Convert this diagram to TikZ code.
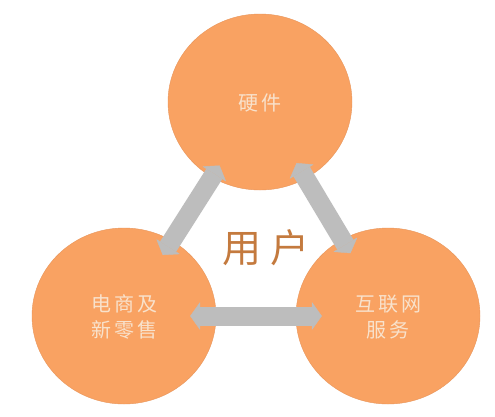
\documentclass[tikz,border=0pt]{standalone}
\usepackage{fontspec}
\newfontfamily\cjkorb[LetterSpace=15]{Noto Sans CJK SC}
\newfontfamily\cjkuser[LetterSpace=25]{Noto Sans CJK SC}
\usetikzlibrary{shapes.geometric,arrows.meta}
\definecolor{orb}{HTML}{F9A262}
\definecolor{orbedge}{HTML}{E8955A}
\definecolor{orbtext}{HTML}{F8E2CC}
\definecolor{usertext}{HTML}{C47A3E}
\definecolor{arrowgray}{HTML}{BDBDBD}
\newcommand\orbtxt[1]{\raisebox{-3.5pt}[\height][\depth]{\begin{tabular}{@{}c@{}}#1\end{tabular}}}
\begin{document}
\begin{tikzpicture}[x=1pt,y=-1pt,
  orbnode/.style={ellipse, fill=orb, draw=orbedge, line width=0.4pt,
    minimum width=184pt, minimum height=176pt, inner sep=0pt,
    text=orbtext, font=\cjkorb\fontsize{20}{26}\selectfont},
  dblarrow/.style={draw=arrowgray, line width=19pt,
    {Triangle[width=28pt,length=10pt,line width=0.4pt,round]}-{Triangle[width=28pt,length=10pt,line width=0.4pt,round]}}]
\useasboundingbox (0,0) rectangle (495,416);
\fill[white] (0,0) rectangle (495,416);
\node[orbnode] (hw) at (260,102) {\orbtxt{硬件}};
\node[orbnode] (ec) at (124,316) {\orbtxt{电商及\\新零售}};
\node[orbnode] (net) at (388,316) {\orbtxt{互联网\\服务}};
\draw[dblarrow, shorten <=-14pt, shorten >=-17pt] (hw) -- (ec);
\draw[dblarrow, shorten <=-18pt, shorten >=-16pt] (hw) -- (net);
\draw[dblarrow, shorten <=-26pt, shorten >=-26pt] (ec) -- (net);
\node[text=usertext, font=\cjkuser\fontsize{39}{40}\selectfont] (user) at (266,248) {用户};
\end{tikzpicture}
\end{document}
